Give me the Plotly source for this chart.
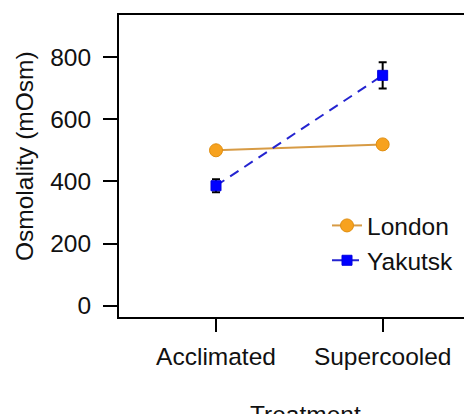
import plotly.graph_objects as go

treatments = ["Acclimated", "Supercooled"]
london = [500, 519]
london_err = [8, 8]
yakutsk = [386, 741]
yakutsk_err = [21, 42]
y_ticks = [0, 200, 400, 600, 800]

# page has an 8px body margin, so the figure is offset by 8px
OFF = 8
W, H = 472 - OFF, 414 - OFF
L, R, T, B = 119 - OFF, 0, 15 - OFF, 97
pw, ph = W - L - R, H - T - B

def px_x(p):
    return (p - OFF - L) / pw

def px_y(p):
    return (H - B - (p - OFF)) / ph

font = "Liberation Sans, Arial, sans-serif"
fs = 24.5

fig = go.Figure()
fig.add_trace(go.Scatter(
    x=treatments, y=london, name="London", mode="lines+markers",
    line=dict(color="#D79B45", width=2),
    marker=dict(symbol="circle", size=13, color="#F7A21E",
                line=dict(color="#E08E10", width=1)),
    error_y=dict(type="data", array=london_err, color="black", thickness=2, width=4),
    legendgroup="a",
))
fig.add_trace(go.Scatter(
    x=treatments, y=yakutsk, name="Yakutsk", mode="lines+markers",
    line=dict(color="#2424D0", width=2, dash="10px,7px"),
    marker=dict(symbol="square", size=10, color="#0000FF",
                line=dict(color="#0000E0", width=1)),
    error_y=dict(type="data", array=yakutsk_err, color="black", thickness=2, width=4),
    legendgroup="b",
))

fig.update_layout(
    width=W, height=H,
    margin=dict(l=L, r=R, t=T, b=B, autoexpand=False),
    paper_bgcolor="white", plot_bgcolor="white",
    font=dict(family=font, size=fs, color="#111111"),
    showlegend=True,
    legend=dict(x=px_x(327), y=px_y(203), xanchor="left", yanchor="top",
                bgcolor="rgba(0,0,0,0)", font=dict(size=fs), tracegroupgap=0),
    xaxis=dict(type="category", range=[-0.582, 1.536], showgrid=False, zeroline=False,
               showline=True, linecolor="black", linewidth=2, mirror=True,
               ticks="outside", ticklen=13, tickwidth=2, tickcolor="black",
               ticklabelstandoff=4),
    yaxis=dict(range=[-36, 935], tickvals=y_ticks, showgrid=False, zeroline=False,
               showline=True, linecolor="black", linewidth=2, mirror=False,
               ticks="outside", ticklen=14, tickwidth=2, tickcolor="black",
               ticklabelstandoff=7),
    annotations=[
        dict(text="Osmolality (mOsm)", xref="paper", yref="paper",
             x=px_x(24), y=px_y(156), textangle=-90, showarrow=False,
             xanchor="center", yanchor="middle", font=dict(size=fs)),
        dict(text="Treatment", xref="paper", yref="paper",
             x=px_x(305), y=px_y(399), showarrow=False,
             xanchor="center", yanchor="top", font=dict(size=fs)),
    ],
)

fig.write_html("out.html")
